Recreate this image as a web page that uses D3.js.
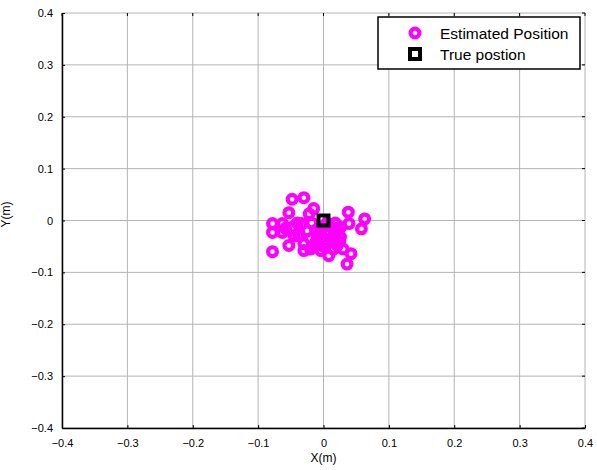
<!DOCTYPE html>
<html>
<head>
<meta charset="utf-8">
<script src="https://cdn.jsdelivr.net/npm/d3@7"></script>
<style>
  body { margin: 0; background: #fff; }
  svg { font-family: "Liberation Sans", Arial, sans-serif; }
</style>
</head>
<body>
<svg id="chart" width="597" height="470"></svg>
<script>
// data
const estX = [-0.048, -0.030, -0.053, -0.015, -0.022, 0.038, 0.063, 0.058, 0.039, 0.026,
  -0.078, -0.078, -0.063, -0.063, -0.048, -0.053, -0.078, -0.030, -0.020, -0.004,
  0.008, 0.026, 0.042, 0.036, -0.033, -0.038, -0.012, 0.008, 0.021, 0.003,
  -0.012, -0.010, 0.000, 0.015, -0.020, 0.010, -0.005, 0.020, -0.025, -0.030,
  0.015, 0.030, -0.045, -0.058, 0.005, -0.040,
  0.005, -0.005, 0.012, 0.025, -0.018, 0.018, 0.000, -0.015];
const estY = [0.041, 0.044, 0.015, 0.023, 0.013, 0.016, 0.003, -0.016, -0.006, -0.013,
  -0.006, -0.023, -0.006, -0.023, -0.013, -0.048, -0.060, -0.058, -0.055, -0.058,
  -0.068, -0.032, -0.064, -0.084, -0.006, -0.029, -0.019, -0.026, -0.048, -0.045,
  -0.042, -0.030, -0.035, -0.030, -0.035, -0.010, -0.015, -0.015, -0.020, -0.045,
  -0.055, -0.055, -0.030, -0.015, -0.005, -0.005,
  -0.020, -0.040, -0.040, -0.040, -0.005, -0.005, -0.050, -0.050];
const trueX = [0];
const trueY = [0];
const xTicks = [-0.4, -0.3, -0.2, -0.1, 0, 0.1, 0.2, 0.3, 0.4];
const yTicks = [-0.4, -0.3, -0.2, -0.1, 0, 0.1, 0.2, 0.3, 0.4];
const legendLabels = ["Estimated Position", "True postion"];

const svg = d3.select("#chart");
const m = { left: 62, right: 12, top: 13, bottom: 42 };
const W = 597 - m.left - m.right;
const H = 470 - m.top - m.bottom;

const x = d3.scaleLinear().domain([-0.4, 0.4]).range([0, W]);
const y = d3.scaleLinear().domain([-0.4, 0.4]).range([H, 0]);

const g = svg.append("g").attr("transform", `translate(${m.left},${m.top})`);

// grid
g.append("g").selectAll("line").data(xTicks).join("line")
  .attr("x1", d => x(d)).attr("x2", d => x(d)).attr("y1", 0).attr("y2", H)
  .attr("stroke", "#b4b4b4").attr("stroke-width", 1);
g.append("g").selectAll("line").data(yTicks).join("line")
  .attr("y1", d => y(d)).attr("y2", d => y(d)).attr("x1", 0).attr("x2", W)
  .attr("stroke", "#b4b4b4").attr("stroke-width", 1);

// axes with inward ticks
const fmt = d => d === 0 ? "0" : d3.format(".1f")(d);
const xAxis = g.append("g").attr("transform", `translate(0,${H})`)
  .call(d3.axisBottom(x).tickValues(xTicks).tickFormat(fmt).tickSizeInner(-3).tickSizeOuter(0).tickPadding(11));
const yAxis = g.append("g")
  .call(d3.axisLeft(y).tickValues(yTicks).tickFormat(fmt).tickSizeInner(-3).tickSizeOuter(0).tickPadding(9));
[xAxis, yAxis].forEach(a => {
  a.select(".domain").attr("stroke", "#000").attr("stroke-width", 1.5);
  a.selectAll("text").attr("font-size", 11).attr("fill", "#000")
    .attr("font-family", "Liberation Sans, Arial, sans-serif");
  a.selectAll(".tick line").attr("stroke", "#000");
});

// top/right inward ticks
g.append("g").selectAll("line").data(xTicks).join("line")
  .attr("x1", d => x(d)).attr("x2", d => x(d)).attr("y1", 0).attr("y2", 3)
  .attr("stroke", "#000");
g.append("g").selectAll("line").data(yTicks).join("line")
  .attr("y1", d => y(d)).attr("y2", d => y(d)).attr("x1", W).attr("x2", W - 3)
  .attr("stroke", "#000");

// estimated positions
const est = estX.map((v, i) => ({ x: v, y: estY[i] }));
g.append("g").selectAll("circle").data(est).join("circle")
  .attr("cx", d => x(d.x)).attr("cy", d => y(d.y)).attr("r", 4.4)
  .attr("fill", "none").attr("stroke", "#ff00ff").attr("stroke-width", 4.2);

// true position
const tru = trueX.map((v, i) => ({ x: v, y: trueY[i] }));
g.append("g").selectAll("rect").data(tru).join("rect")
  .attr("x", d => x(d.x) - 5).attr("y", d => y(d.y) - 5)
  .attr("width", 10).attr("height", 10)
  .attr("fill", "none").attr("stroke", "#000").attr("stroke-width", 4);

// axis labels
svg.append("text").attr("x", m.left + W / 2).attr("y", 462)
  .attr("text-anchor", "middle").attr("font-size", 12).text("X(m)");
svg.append("text").attr("transform", `translate(10,${m.top + H / 2 - 6}) rotate(-90)`)
  .attr("text-anchor", "middle").attr("font-size", 12).text("Y(m)");

// legend
const legend = svg.append("g").attr("transform", "translate(378,17)");
legend.append("rect").attr("width", 202).attr("height", 52)
  .attr("fill", "#fff").attr("stroke", "#000").attr("stroke-width", 1.5);
legend.append("circle").attr("cx", 37).attr("cy", 16).attr("r", 4.4)
  .attr("fill", "none").attr("stroke", "#ff00ff").attr("stroke-width", 4.2);
legend.append("rect").attr("x", 32).attr("y", 32).attr("width", 10).attr("height", 10)
  .attr("fill", "none").attr("stroke", "#000").attr("stroke-width", 4);
legend.selectAll("text.lab").data(legendLabels).join("text")
  .attr("class", "lab")
  .attr("x", 62).attr("y", (d, i) => 22 + i * 21)
  .attr("font-size", 15.5).text(d => d);
</script>
</body>
</html>
